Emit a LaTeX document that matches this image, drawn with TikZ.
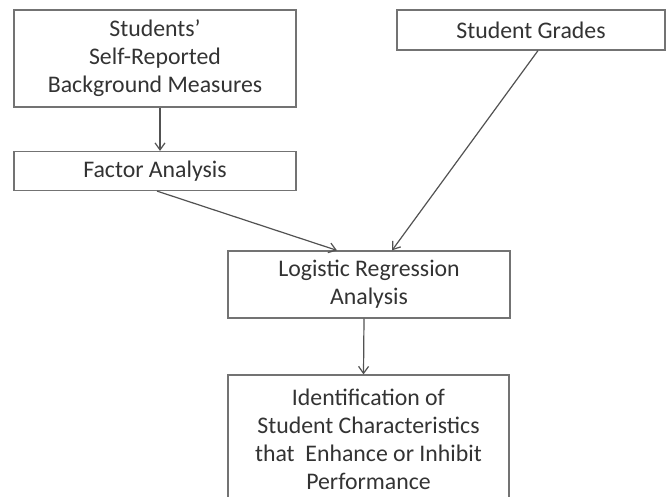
\documentclass[tikz,border=0pt]{standalone}
\usepackage{fontspec}
\setmainfont{Carlito}
\usetikzlibrary{calc,arrows.meta}
\begin{document}
\begin{tikzpicture}[x=1pt,y=-1pt,
  box/.style={draw=black!55, line width=1.2pt, text=black!80, align=center, inner sep=0pt,
    font=\fontsize{23.8}{28}\selectfont},
  arr/.style={draw=black!68, line width=1.2pt, -{Straight Barb[length=7pt,width=10pt]}}]
\clip (0,0) rectangle (667,497);
\fill[white] (0,0) rectangle (667,497);
\node[box, minimum width=282pt, minimum height=97pt] (bg) at (155,58.5) {Students’\\Self-Reported\\Background Measures};
\node[box, minimum width=282pt, minimum height=39pt] (fa) at (155,171) {Factor Analysis};
\node[box, minimum width=268pt, minimum height=40pt] (sg) at (531,30) {Student Grades};
\node[box, minimum width=282pt, minimum height=67pt] (lr) at (369,284.5) {Logistic Regression\\Analysis};
\node[box, minimum width=281pt, minimum height=128pt] (id) at (368.5,439) {Identification of\\Student Characteristics\\that~ Enhance or Inhibit\\Performance};
\draw[arr] ($(bg.south)+(5,0)$) -- ($(fa.north)+(5,0)$);
\draw[arr] ($(fa.south)+(2,0)$) -- ($(lr.north)+(-32,0)$);
\draw[arr] ($(sg.south)+(7,0)$) -- ($(lr.north)+(23,0)$);
\draw[arr] ($(lr.south)+(-5,0)$) -- ($(id.north)+(-5,0)$);
\end{tikzpicture}
\end{document}
